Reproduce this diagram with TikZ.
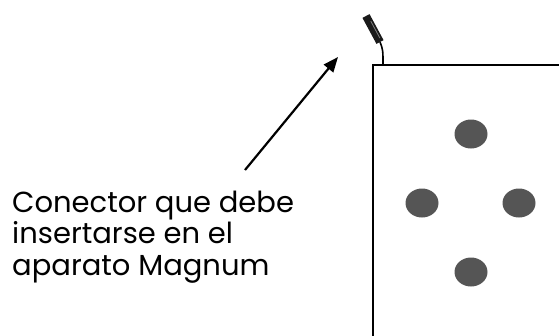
\documentclass[tikz,border=0pt]{standalone}
\usepackage{fontspec}
\setmainfont{Poppins}
\usetikzlibrary{arrows.meta,calc}
\definecolor{ink}{HTML}{000000}
\definecolor{mdot}{HTML}{555555}
\definecolor{mplug}{HTML}{1A1A1A}
\tikzset{
  every node/.style={font=\fontsize{29}{31.5}\selectfont, text=ink},
  box/.style ={draw=ink, line width=1.6pt, fill=white},
  pin/.style ={fill=mdot, draw=none},
  cable/.style={draw=ink, line width=1.6pt},
  plug/.style={draw=mplug, line width=8pt},
  ar/.style  ={-{Triangle[length=15pt,width=12pt]}, line width=2.2pt, draw=ink},
}
\begin{document}
\begin{tikzpicture}[x=1pt,y=-1pt]
\useasboundingbox (0,0) rectangle (559,335);
\clip (0,0) rectangle (559,335);

% ============ device ========================================================
\draw[box] (373,65) rectangle (580,360);
\foreach \px/\py in {471/134, 422/203, 519/203, 471/272}{
  \fill[pin] (\px,\py) ellipse [x radius=16.5, y radius=14.5];
}

% ============ connector =====================================================
\coordinate (plugA) at (366,16);
\coordinate (plugB) at (380,42);
\coordinate (cableEnd) at (383,65);
\draw[cable] (plugB) .. controls (383,50) .. (cableEnd);
\draw[plug] (plugA) -- (plugB);
\draw[gray, line width=0.8pt] ($(plugA)!0.2!(plugB)+(2,0)$) -- ($(plugA)!0.85!(plugB)+(2,0)$);

% ============ label =========================================================
\node[anchor=base west, align=left, inner sep=0pt] (lbl) at (12,275)
  {Conector que debe\\insertarse en el\\aparato Magnum};
\coordinate (tail) at (245,170);
\coordinate (tip) at (338,57);
\draw[ar] (tail) -- (tip);

\end{tikzpicture}
\end{document}
